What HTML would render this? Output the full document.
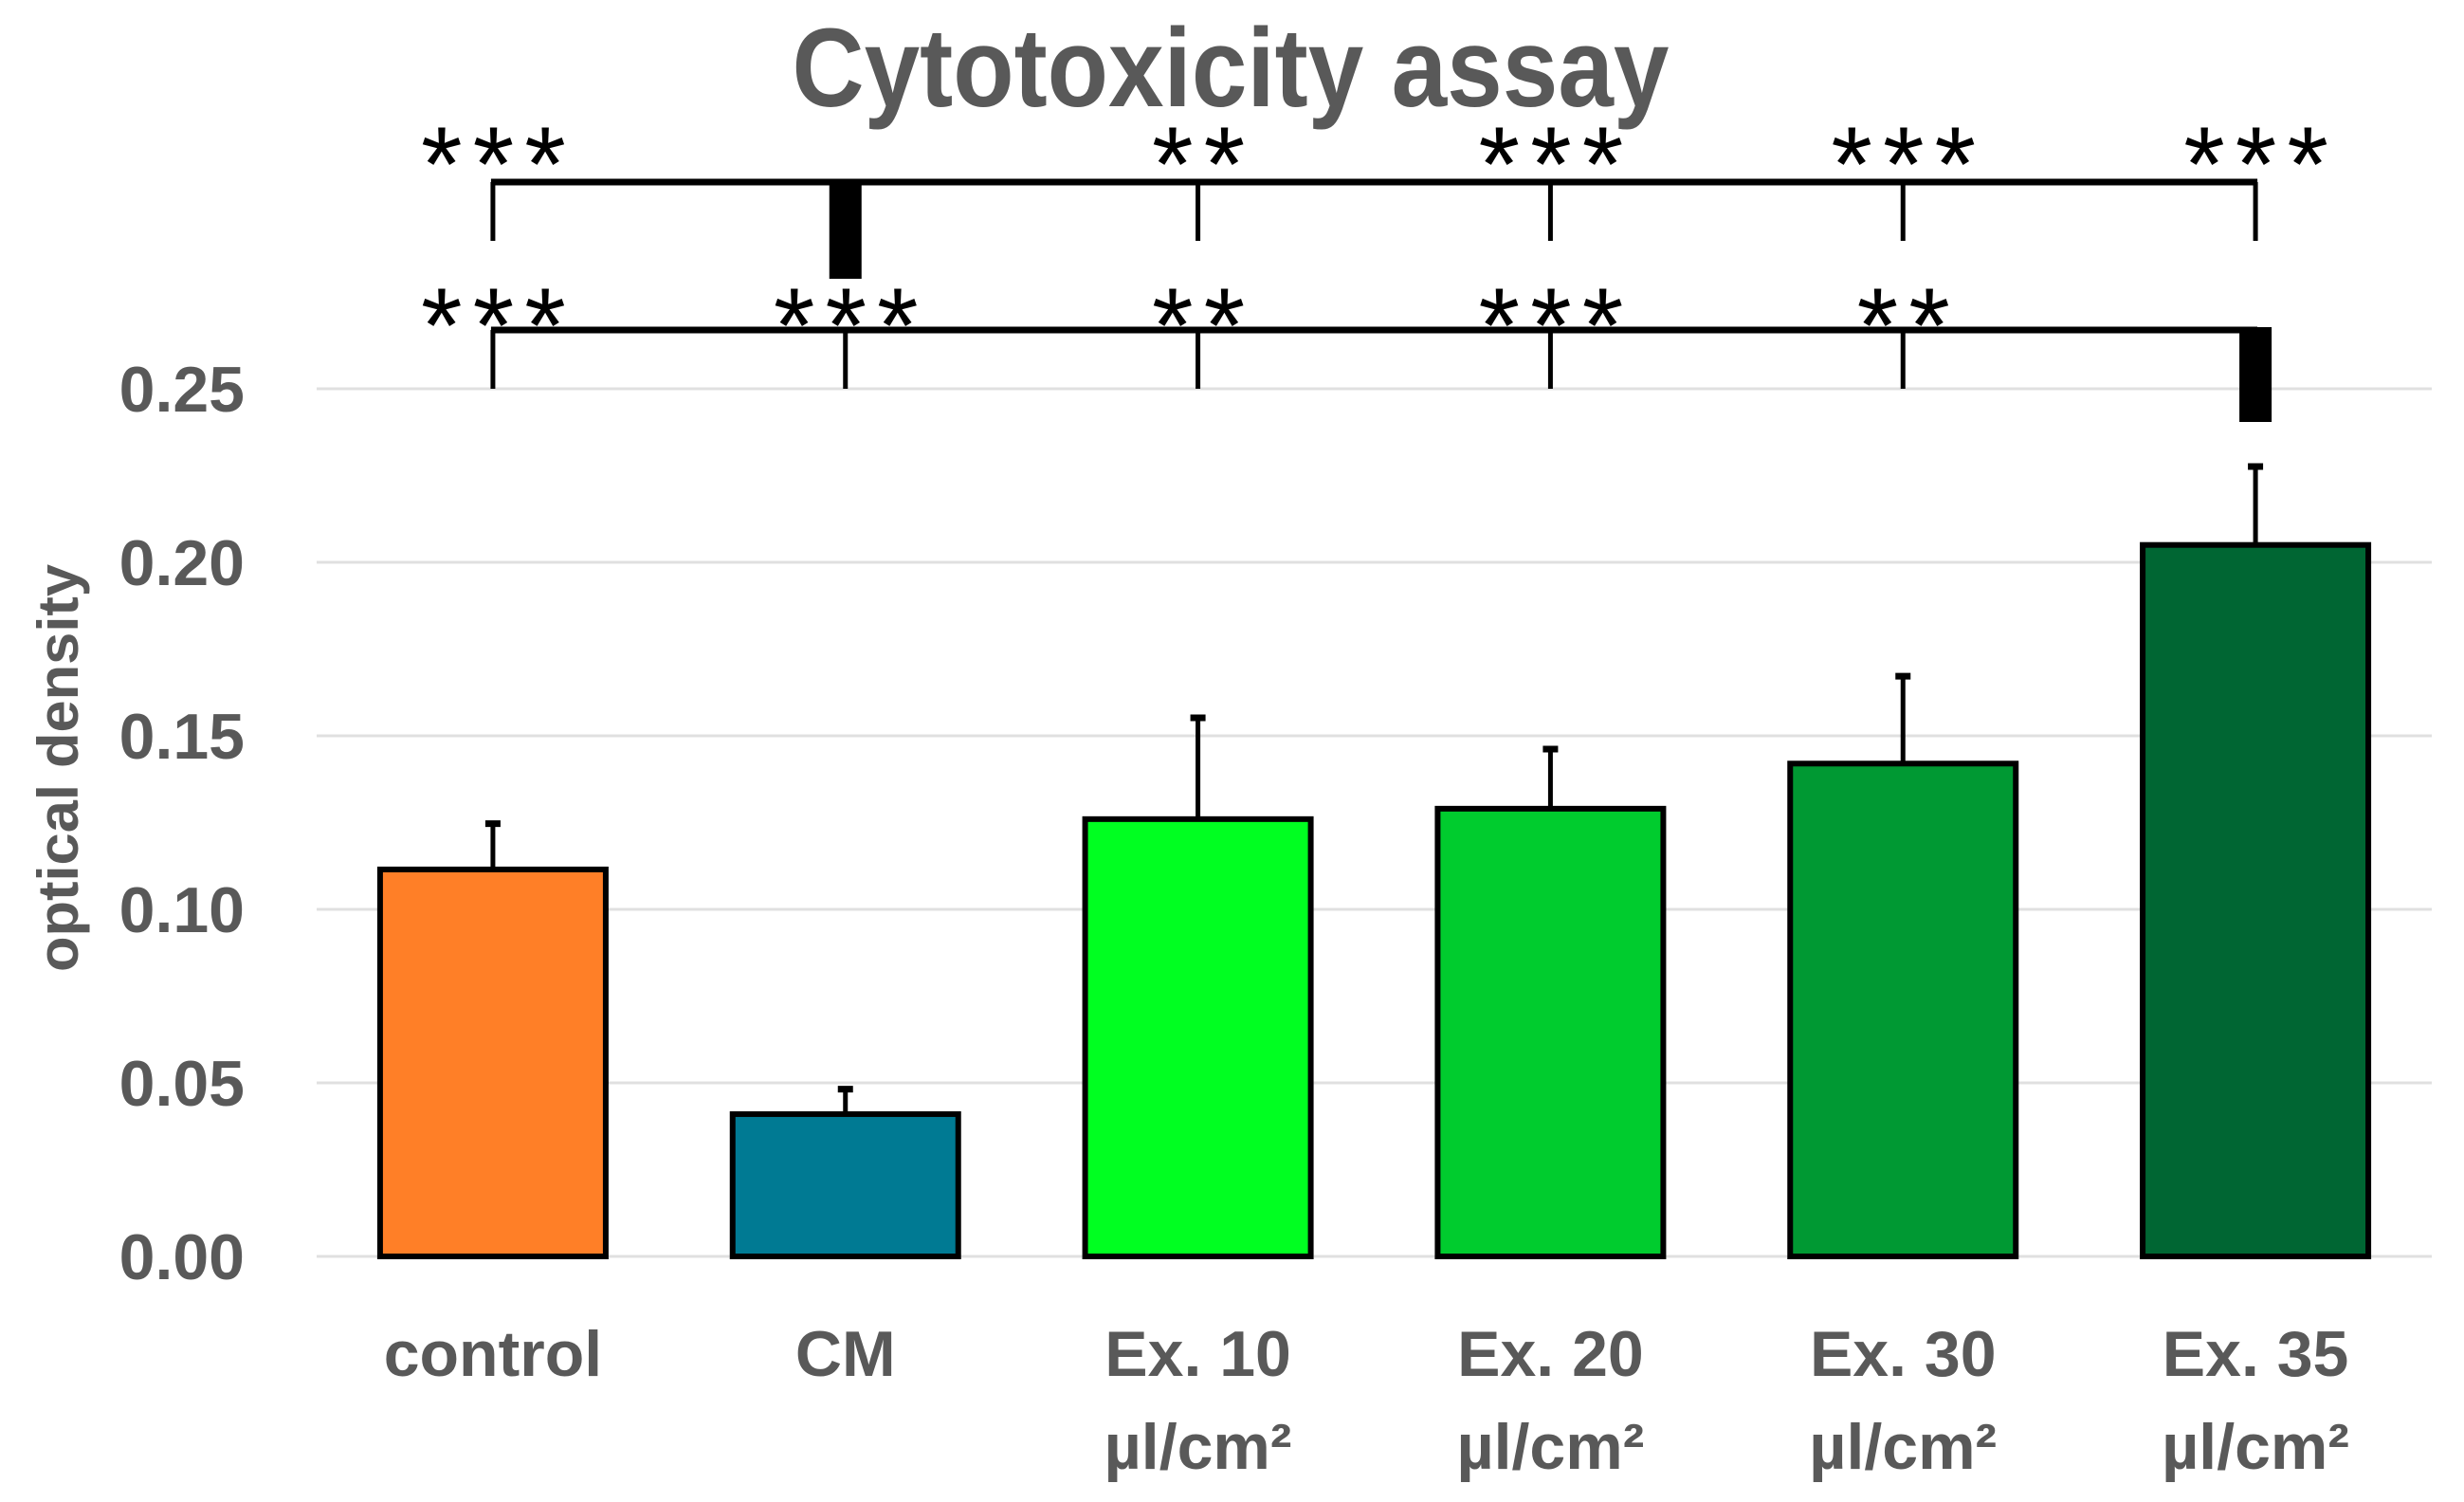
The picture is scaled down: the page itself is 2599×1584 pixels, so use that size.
<!DOCTYPE html>
<html><head><meta charset="utf-8"><style>
html,body{margin:0;padding:0;background:#fff;}
svg{display:block;}
</style></head><body>
<svg id="chart" width="2599" height="1584" viewBox="0 0 2599 1584" xmlns="http://www.w3.org/2000/svg" font-family="Liberation Sans, sans-serif">
<text x="1298" y="112" text-anchor="middle" font-size="118" font-weight="bold" fill="#595959" textLength="925" lengthAdjust="spacingAndGlyphs">Cytotoxicity assay</text>
<text transform="translate(82,810) rotate(-90)" text-anchor="middle" font-size="60" font-weight="bold" fill="#595959" textLength="430" lengthAdjust="spacingAndGlyphs">optical density</text>
<g id="grid"></g><g id="bars"></g><g id="labels"></g><g id="sig"></g>
</svg>
<script>
const categories = ["control","CM","Ex. 10","Ex. 20","Ex. 30","Ex. 35"];
const subLabels = ["","","µl/cm²","µl/cm²","µl/cm²","µl/cm²"];
const values = [0.1115,0.041,0.126,0.129,0.142,0.205];
const errors = [0.014,0.008,0.030,0.018,0.026,0.0234];
const colors = ["#FF7F27","#007A93","#00FF21","#00CC2E","#009933","#006633"];
const yTicks = [0,0.05,0.10,0.15,0.20,0.25];
const yTickLabels = ["0.00","0.05","0.10","0.15","0.20","0.25"];
const sigRow1 = ["***","","**","***","***","***"];
const sigRow2 = ["***","***","**","***","**",""];
const NS="http://www.w3.org/2000/svg";
const L=334,R=2565,Y0=1325,Y25=410;
const y=v=>Y0-(v/0.25)*(Y0-Y25);
const bw=(R-L)/categories.length;
const x=i=>L+bw*(i+0.5);
function mk(tag,parent,attrs){const e=document.createElementNS(NS,tag);for(const k in attrs)e.setAttribute(k,attrs[k]);parent.appendChild(e);return e;}
const grid=document.getElementById('grid'),bars=document.getElementById('bars'),labels=document.getElementById('labels'),sig=document.getElementById('sig');
yTicks.forEach((t,i)=>{
  const g=mk('line',grid,{x1:L,x2:R,y1:y(t),y2:y(t),stroke:"#e0e0e0","stroke-width":3});
  
  
  const tx=mk('text',labels,{x:258,y:y(t)+24,"text-anchor":"end","font-size":68,"font-weight":"bold",fill:"#595959"});
  tx.textContent=yTickLabels[i];
  
  
});
const BW=238;
categories.forEach((c,i)=>{
  const cx=x(i);
  const eb=mk('line',bars,{x1:cx,x2:cx,y1:y(values[i]),y2:y(values[i]+errors[i]),stroke:"#000","stroke-width":5});
  
  
  const cap=mk('line',bars,{x1:cx-8,x2:cx+8,y1:y(values[i]+errors[i])+3,y2:y(values[i]+errors[i])+3,stroke:"#000","stroke-width":7});
  
  
  const r=mk('rect',bars,{x:cx-BW/2,y:y(values[i]),width:BW,height:Y0-y(values[i]),fill:colors[i],stroke:"#000","stroke-width":6});
  
  
  const t=mk('text',labels,{x:cx,y:1451,"text-anchor":"middle","font-size":68,"font-weight":"bold",fill:"#595959"});
  t.textContent=c;
  
  
  if(subLabels[i]){
    const t2=mk('text',labels,{x:cx,y:1549,"text-anchor":"middle","font-size":68,"font-weight":"bold",fill:"#595959"});
    t2.textContent=subLabels[i];
    
    
  }
});
function bracket(lineY,tickBot,row,thickIdx,thickBot,starY,name){
  const last=categories.length-1;
  const hl=mk('line',sig,{x1:x(0)-2,x2:x(last)+2,y1:lineY,y2:lineY,stroke:"#000","stroke-width":7});
  
  
  categories.forEach((c,i)=>{
    if(i===thickIdx){
      const b=mk('rect',sig,{x:x(i)-17,y:lineY-3,width:34,height:thickBot-lineY+3,fill:"#000"});
      
      
    } else {
      const tk=mk('line',sig,{x1:x(i),x2:x(i),y1:lineY,y2:tickBot,stroke:"#000","stroke-width":5});
      
      
    }
    if(row[i]){
      const s=mk('text',sig,{x:x(i)+6,y:starY,"text-anchor":"middle","font-size":112,"letter-spacing":11,fill:"#000"});
      s.textContent=row[i];
      
      
    }
  });
}
bracket(192,254,sigRow1,1,294,212,'bracket-vs-cm');
bracket(348,410,sigRow2,5,445,382,'bracket-vs-ex35');
</script>
</body></html>
